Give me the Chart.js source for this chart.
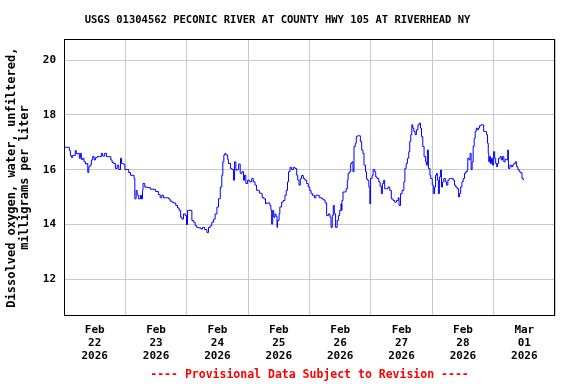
<!DOCTYPE html>
<html>
<head>
<meta charset="utf-8">
<script src="https://cdn.jsdelivr.net/npm/chart.js@4.4.1/dist/chart.umd.min.js"></script>
<style>
  html, body { margin: 0; padding: 0; background: #fff; }
  #wrap { width: 576px; height: 384px; }
</style>
</head>
<body>
<div id="wrap"><canvas id="myChart" width="576" height="384"></canvas></div>
<script>
// hours after Feb 22 2026 00:00
const hours = [
  0, 1.8, 2.1, 2.5, 2.9, 3.4, 4.2, 4.4, 4.8, 5.4, 6.0, 6.4, 6.8, 7.4, 7.8, 8.4, 8.9, 9.3, 9.7, 10.2,
  10.7, 11.2, 11.8, 12.3, 12.9, 13.8, 14.6, 15.1, 15.9, 16.6, 17.5, 18.3, 18.8, 19.5, 20.1, 20.8, 21.4, 22.1, 22.5, 23.0,
  23.8, 24.8, 25.3, 26.0, 27.0, 27.4, 27.7, 28.2, 28.6, 29.2, 29.9, 30.3, 30.7, 30.9, 31.6, 32.5, 33.8, 35.8, 36.9, 37.6,
  38.2, 38.9, 39.6, 40.9, 41.5, 42.2, 42.8, 43.7, 44.4, 45.0, 45.6, 46.1, 46.7, 47.4, 47.9, 48.3, 49.3, 50.0, 50.6, 51.3,
  51.9, 52.6, 53.5, 54.2, 55.0, 55.9, 56.5, 57.2, 57.8, 58.5, 59.1, 59.8, 60.4, 61.1, 61.7, 62.1, 62.5, 62.9, 63.3, 64.0,
  64.3, 65.1, 65.7, 66.3, 66.7, 67.2, 67.9, 68.3, 68.9, 69.6, 70.2, 70.6, 71.1, 71.8, 72.6, 73.4, 74.0, 74.7, 75.3, 76.0,
  76.4, 77.0, 77.5, 78.2, 78.8, 79.2, 79.9, 80.5, 80.9, 81.2, 81.6, 82.0, 82.5, 82.9, 83.3, 83.5, 84.1, 84.4, 85.1, 85.7,
  86.4, 86.9, 87.4, 87.8, 88.4, 89.0, 89.7, 90.3, 91.0, 91.4, 91.9, 92.4, 92.9, 93.6, 94.2, 94.9, 95.5, 96.1, 96.6, 97.2,
  97.9, 98.5, 99.2, 99.8, 100.8, 101.4, 102.1, 102.7, 103.4, 104.0, 104.4, 104.9, 105.3, 105.7, 106.2, 106.8, 107.3, 107.8, 108.3, 108.5,
  108.7, 109.1, 109.8, 110.3, 110.8, 111.1, 111.6, 112.1, 112.6, 113.0, 113.4, 113.9, 114.3, 114.7, 115.4, 115.9, 116.4, 116.9, 117.3, 117.9,
  118.3, 118.6, 119.2, 119.6, 119.9, 120.5, 120.9, 121.5, 121.9, 122.4, 123.1, 123.6, 124.1, 124.5, 125.0, 125.4, 126.1, 126.7, 127.4, 128.0,
  128.7, 129.3, 130.0, 130.7, 131.0, 131.6, 132.2, 132.9, 133.3, 133.8, 134.3, 134.8, 135.2, 135.6, 136.0, 136.4, 136.8, 137.3, 137.8, 138.4,
  138.9, 139.4, 139.8, 140.3, 140.8, 141.4, 141.7, 142.1, 142.5, 143.1, 143.4, 144.0, 144.4, 144.9, 145.3, 145.7, 146.0, 146.4, 146.8, 147.2,
  147.6, 148.0, 148.5, 149.1, 149.6, 150.1, 150.6, 151.1, 151.7, 152.2, 152.7, 153.2, 153.7, 154.3, 154.7, 155.1, 155.6, 156.1, 156.6, 157.1,
  157.7, 157.9, 158.4, 158.8, 159.2, 159.6, 160.0, 160.4, 160.8, 161.2, 161.6, 162.1, 162.5, 163.1, 163.7, 164.1, 164.7, 165.2, 165.6, 165.9,
  166.1, 166.4, 166.8, 167.2, 167.6, 168.0, 168.4, 168.8, 169.2, 169.5, 169.9, 170.5, 171.0, 171.5, 172.0, 172.5, 173.1, 173.5, 173.8, 174.4,
  174.9, 175.4, 175.9, 176.5, 177.0, 177.5, 178.0, 178.5, 179.1, 179.6
];

// dissolved oxygen, mg/L
const oxygen = [
  16.82, 16.82, 16.70, 16.52, 16.45, 16.52, 16.52, 16.70, 16.58, 16.60, 16.42, 16.60, 16.38, 16.42, 16.29, 16.21, 16.23, 15.90, 16.11, 16.17,
  16.36, 16.48, 16.36, 16.44, 16.48, 16.48, 16.60, 16.50, 16.60, 16.48, 16.48, 16.36, 16.27, 16.23, 16.05, 16.17, 16.01, 16.42, 16.23, 16.21,
  16.01, 16.01, 15.90, 15.80, 15.80, 15.68, 14.94, 15.25, 15.07, 14.94, 15.07, 14.94, 15.25, 15.50, 15.37, 15.35, 15.29, 15.21, 15.10, 14.98,
  15.07, 14.98, 14.98, 14.94, 14.86, 14.82, 14.79, 14.70, 14.61, 14.52, 14.27, 14.20, 14.39, 14.33, 14.00, 14.52, 14.52, 14.15, 14.09, 13.96,
  13.90, 13.88, 13.84, 13.90, 13.82, 13.71, 13.90, 13.96, 14.09, 14.20, 14.39, 14.64, 14.94, 15.37, 15.80, 16.29, 16.54, 16.60, 16.54, 16.38,
  16.23, 16.05, 16.01, 15.62, 16.29, 15.99, 16.01, 16.21, 15.87, 15.93, 15.62, 15.80, 15.50, 15.62, 15.56, 15.68, 15.56, 15.44, 15.25, 15.25,
  15.15, 15.13, 14.98, 14.94, 14.76, 14.79, 14.79, 14.70, 14.54, 14.02, 14.52, 14.27, 14.39, 14.30, 13.90, 14.15, 14.39, 14.64, 14.82, 14.88,
  15.07, 15.25, 15.56, 15.93, 16.09, 16.01, 16.09, 16.05, 15.80, 15.62, 15.44, 15.68, 15.79, 15.68, 15.62, 15.50, 15.37, 15.25, 15.13, 15.07,
  14.98, 15.07, 15.07, 14.98, 14.94, 14.90, 14.79, 14.33, 14.39, 14.27, 13.90, 14.33, 14.70, 14.39, 13.90, 14.15, 14.33, 14.52, 14.76, 14.52,
  14.88, 15.19, 15.19, 15.31, 15.62, 15.87, 15.93, 16.23, 16.29, 15.93, 16.85, 16.97, 17.21, 17.24, 17.24, 17.03, 16.72, 16.60, 16.17, 15.93,
  15.68, 15.62, 15.37, 14.76, 15.68, 15.80, 16.01, 15.93, 15.74, 15.68, 15.56, 15.40, 15.13, 15.50, 15.62, 15.31, 15.31, 15.37, 15.25, 14.94,
  14.88, 14.82, 14.88, 14.98, 14.70, 15.13, 15.25, 15.56, 16.05, 16.23, 16.42, 16.66, 17.03, 17.28, 17.64, 17.52, 17.40, 17.28, 17.46, 17.64,
  17.70, 17.52, 17.21, 16.85, 16.48, 16.29, 16.17, 16.72, 16.05, 15.80, 15.68, 15.44, 15.13, 15.37, 15.80, 15.87, 15.62, 15.13, 15.74, 15.99,
  15.37, 15.56, 15.68, 15.56, 15.44, 15.62, 15.68, 15.68, 15.68, 15.62, 15.44, 15.37, 15.31, 15.01, 15.13, 15.37, 15.56, 15.68, 15.87, 15.93,
  15.99, 16.42, 16.36, 16.60, 16.01, 16.29, 16.85, 17.15, 17.40, 17.52, 17.46, 17.52, 17.61, 17.64, 17.64, 17.40, 17.40, 17.28, 16.97, 16.60,
  16.29, 16.48, 16.23, 16.42, 16.17, 16.66, 16.42, 16.23, 16.11, 16.23, 16.42, 16.48, 16.36, 16.48, 16.29, 16.38, 16.36, 16.72, 16.05, 16.17,
  16.11, 16.17, 16.23, 16.29, 16.11, 16.01, 15.93, 15.89, 15.68, 15.62
];

// one label per day, centred at noon
const dayLabels = [
  ['Feb', '22', '2026'], ['Feb', '23', '2026'], ['Feb', '24', '2026'], ['Feb', '25', '2026'],
  ['Feb', '26', '2026'], ['Feb', '27', '2026'], ['Feb', '28', '2026'], ['Mar', '01', '2026']
];
const yTicks = [12, 14, 16, 18, 20];

const points = hours.map((h, i) => ({ x: h, y: oxygen[i] }));

Chart.defaults.font.family = '"DejaVu Sans Mono", monospace';
Chart.defaults.font.weight = 'bold';
Chart.defaults.color = '#000';

// black box round the plot
const frame = {
  id: 'frame',
  afterDatasetsDraw(chart) {
    const { ctx, chartArea: a } = chart;
    ctx.save();
    ctx.strokeStyle = '#000';
    ctx.lineWidth = 1;
    ctx.strokeRect(Math.round(a.left) + 0.5, Math.round(a.top) + 0.5,
      Math.round(a.right - a.left) - 1, Math.round(a.bottom - a.top) - 1);
    ctx.restore();
  }
};

const ctx = document.getElementById('myChart').getContext('2d');

new Chart(ctx, {
  type: 'line',
  data: {
    datasets: [{
      data: points,
      borderColor: '#0000ff',
      borderWidth: 1,
      pointRadius: 0,
      stepped: true,
      fill: false
    }]
  },
  options: {
    responsive: false,
    animation: false,
    layout: { padding: { left: 0, right: 21, top: 0, bottom: 0 } },
    plugins: {
      legend: { display: false },
      tooltip: { enabled: false },
      title: {
        display: true,
        text: 'USGS 01304562 PECONIC RIVER AT COUNTY HWY 105 AT RIVERHEAD NY',
        font: { size: 10.5, weight: 'bold', lineHeight: 1.2 },
        padding: { top: 14, bottom: 12.4 }
      },
      subtitle: {
        display: true,
        position: 'bottom',
        fullSize: false,
        text: '---- Provisional Data Subject to Revision ----',
        color: '#ff0000',
        font: { size: 11.5, weight: 'bold', lineHeight: 1.2 },
        padding: { top: 5, bottom: 2 }
      }
    },
    scales: {
      x: {
        type: 'linear',
        min: 0,
        max: 192,
        afterBuildTicks: (scale) => {
          const t = [];
          for (let v = 0; v <= 192; v += 12) t.push({ value: v });
          scale.ticks = t;
        },
        afterFit: (scale) => { scale.height = 47; },
        ticks: {
          autoSkip: false,
          maxRotation: 0,
          padding: 7,
          font: { size: 11, weight: 'bold', lineHeight: 1.2 },
          callback: (v) => (v % 24 === 12 ? dayLabels[(v - 12) / 24] : '')
        },
        grid: {
          drawTicks: false,
          color: (c) => (c.tick && c.tick.value % 24 === 0 ? '#c8c8c8' : 'rgba(0,0,0,0)')
        },
        border: { display: false }
      },
      y: {
        min: 10.66,
        max: 20.77,
        afterBuildTicks: (scale) => {
          scale.ticks = yTicks.map(v => ({ value: v }));
        },
        afterFit: (scale) => { scale.width = 64; },
        ticks: {
          padding: 8,
          font: { size: 11, weight: 'bold' },
          callback: (v) => String(v)
        },
        grid: { drawTicks: false, color: '#c8c8c8' },
        border: { display: false },
        title: {
          display: true,
          text: ['Dissolved oxygen, water, unfiltered,', 'milligrams per liter'],
          font: { size: 12, weight: 'bold', lineHeight: 1.1 },
          padding: { top: 5, bottom: 0 }
        }
      }
    }
  },
  plugins: [frame]
});
</script>
</body>
</html>
